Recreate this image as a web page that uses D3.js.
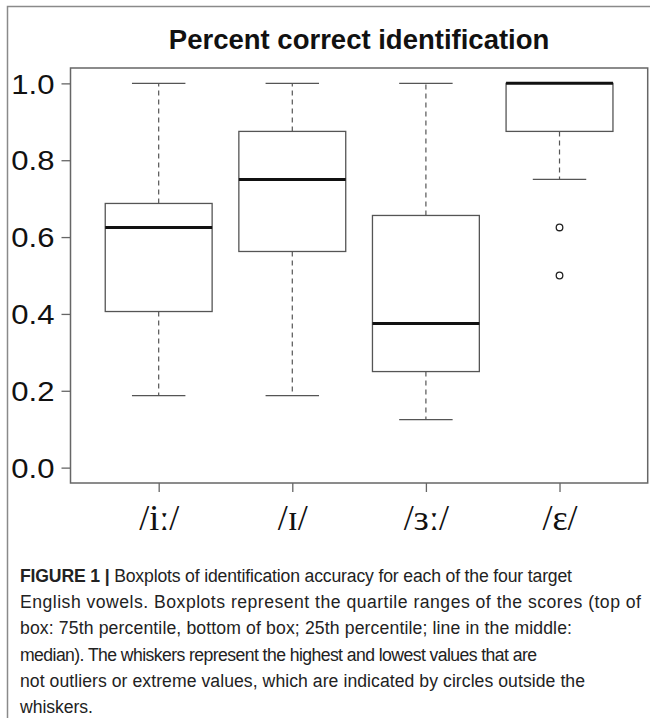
<!DOCTYPE html>
<html>
<head>
<meta charset="utf-8">
<script src="https://cdn.jsdelivr.net/npm/d3@7"></script>
<style>
  body { margin: 0; background: #fff; }
  .tick-label { font-family: "Liberation Sans", Arial, sans-serif; }
  .chart-title { font-family: "Liberation Sans", Arial, sans-serif; font-weight: bold; }
  .vowel { font-family: "Liberation Serif", "DejaVu Serif", serif; }
  .caption { font-family: "Liberation Sans Narrow", "Liberation Sans", Arial, sans-serif; }
</style>
</head>
<body>
<div id="chart"></div>
<script>
// box plot summary per vowel (proportion correct)
const vowels = ["/iː/", "/ɪ/", "/ɜː/", "/ɛ/"];
const whiskerLow = [0.1875, 0.1875, 0.125, 0.75];
const q1 = [0.40625, 0.5625, 0.25, 0.875];
const median = [0.625, 0.75, 0.375, 1.0];
const q3 = [0.6875, 0.875, 0.65625, 1.0];
const whiskerHigh = [1.0, 1.0, 1.0, 1.0];
const outliers = [[], [], [], [0.625, 0.5]];
const yTicks = [0, 0.2, 0.4, 0.6, 0.8, 1.0];

const captionLines = [
  "Boxplots of identification accuracy for each of the four target",
  "English vowels. Boxplots represent the quartile ranges of the scores (top of",
  "box: 75th percentile, bottom of box; 25th percentile; line in the middle:",
  "median). The whiskers represent the highest and lowest values that are",
  "not outliers or extreme values, which are indicated by circles outside the",
  "whiskers.",
];
// printed width of each caption line in the figure
const captionWidths = [552, 621, 552, 517, 565, 73];

const W = 650, H = 718;
const plot = { left: 70.5, right: 647.7, top: 68, bottom: 483 };

const svg = d3.select("#chart").append("svg")
  .attr("width", W).attr("height", H);

// outer figure frame
svg.append("rect")
  .attr("x", 7.5).attr("y", 6.5)
  .attr("width", W).attr("height", H)
  .attr("fill", "none").attr("stroke", "#8a8a8a").attr("stroke-width", 1.5);

// R style ranges: 4% padding around the data
const xScale = d3.scaleLinear().domain([0.34, 4.66]).range([plot.left, plot.right]);
const yScale = d3.scaleLinear().domain([-0.04, 1.04]).range([plot.bottom, plot.top]);

const boxW = xScale(0.8) - xScale(0);
const capW = xScale(0.4) - xScale(0);

const data = vowels.map((v, i) => ({
  pos: i + 1, label: v,
  lo: whiskerLow[i], q1: q1[i], med: median[i], q3: q3[i], hi: whiskerHigh[i],
  out: outliers[i],
}));

const g = svg.append("g");

// whiskers (dashed)
g.selectAll(".whisk-up").data(data).join("line")
  .attr("x1", d => xScale(d.pos)).attr("x2", d => xScale(d.pos))
  .attr("y1", d => yScale(d.q3)).attr("y2", d => yScale(d.hi))
  .attr("stroke", "#555").attr("stroke-width", 1.2).attr("stroke-dasharray", "5,4");
g.selectAll(".whisk-dn").data(data).join("line")
  .attr("x1", d => xScale(d.pos)).attr("x2", d => xScale(d.pos))
  .attr("y1", d => yScale(d.q1)).attr("y2", d => yScale(d.lo))
  .attr("stroke", "#555").attr("stroke-width", 1.2).attr("stroke-dasharray", "5,4");

// staples
["hi", "lo"].forEach(k => {
  g.selectAll(".cap-" + k).data(data).join("line")
    .attr("x1", d => xScale(d.pos) - capW / 2).attr("x2", d => xScale(d.pos) + capW / 2)
    .attr("y1", d => yScale(d[k])).attr("y2", d => yScale(d[k]))
    .attr("stroke", "#555").attr("stroke-width", 1.3);
});

// boxes
g.selectAll(".box").data(data).join("rect")
  .attr("x", d => xScale(d.pos) - boxW / 2)
  .attr("y", d => yScale(d.q3))
  .attr("width", boxW)
  .attr("height", d => yScale(d.q1) - yScale(d.q3))
  .attr("fill", "#fff").attr("stroke", "#555").attr("stroke-width", 1.3);

// medians
g.selectAll(".med").data(data).join("line")
  .attr("x1", d => xScale(d.pos) - boxW / 2).attr("x2", d => xScale(d.pos) + boxW / 2)
  .attr("y1", d => yScale(d.med)).attr("y2", d => yScale(d.med))
  .attr("stroke", "#111").attr("stroke-width", 3);

// outliers
g.selectAll(".out").data(data.flatMap(d => d.out.map(v => ({ pos: d.pos, v }))))
  .join("circle")
  .attr("cx", d => xScale(d.pos)).attr("cy", d => yScale(d.v))
  .attr("r", 3.3).attr("fill", "none").attr("stroke", "#222").attr("stroke-width", 1.3);

// plot frame
svg.append("rect")
  .attr("x", plot.left).attr("y", plot.top)
  .attr("width", plot.right - plot.left).attr("height", plot.bottom - plot.top)
  .attr("fill", "none").attr("stroke", "#666").attr("stroke-width", 1.5);

// y axis (labels are drawn a bit wide in the original figure)
const stretch = 1.15;
const yAxis = d3.axisLeft(yScale).tickValues(yTicks).tickSize(9).tickPadding(7)
  .tickFormat(d3.format(".1f"));
const yAxisG = svg.append("g").attr("transform", `translate(${plot.left},0)`).call(yAxis);
yAxisG.select(".domain").remove();
yAxisG.selectAll("line").attr("stroke", "#666").attr("stroke-width", 1.3);
yAxisG.selectAll("text")
  .attr("class", "tick-label")
  .attr("font-size", 27).attr("fill", "#111")
  .attr("x", -16 / stretch)
  .attr("transform", `scale(${stretch},1)`)
  .attr("dy", "0.36em");

// x axis
const xAxis = d3.axisBottom(xScale).tickValues(data.map(d => d.pos)).tickSize(9)
  .tickFormat((d, i) => vowels[i]).tickPadding(13);
const xAxisG = svg.append("g").attr("transform", `translate(0,${plot.bottom})`).call(xAxis);
xAxisG.select(".domain").remove();
xAxisG.selectAll("line").attr("stroke", "#666").attr("stroke-width", 1.3);
xAxisG.selectAll("text")
  .attr("class", "vowel")
  .attr("font-size", 36).attr("fill", "#111")
  .attr("dy", "0.7em");

// title
svg.append("text")
  .attr("class", "chart-title")
  .attr("x", (plot.left + plot.right) / 2).attr("y", 49)
  .attr("text-anchor", "middle")
  .attr("font-size", 27.5).attr("fill", "#111")
  .text("Percent correct identification");

// caption: same glyph squeeze on every line, letter spacing takes up the rest
const cap = svg.append("g").attr("class", "caption");
const capTexts = captionLines.map((line, i) => {
  const t = cap.append("text")
    .attr("x", 20).attr("y", 582 + i * 26.2)
    .attr("font-size", 19).attr("fill", "#222");
  if (i === 0) {
    t.append("tspan").attr("font-weight", "bold").text("FIGURE 1 | ");
  }
  t.append("tspan").text(line);
  return t;
});
const ratios = capTexts.map((t, i) => captionWidths[i] / t.node().getComputedTextLength());
const squeeze = d3.median(ratios);
capTexts.forEach((t, i) => {
  t.attr("x", 20 / squeeze)
    .attr("transform", `scale(${squeeze},1)`)
    .attr("textLength", captionWidths[i] / squeeze)
    .attr("lengthAdjust", "spacing");
});
</script>
</body>
</html>
